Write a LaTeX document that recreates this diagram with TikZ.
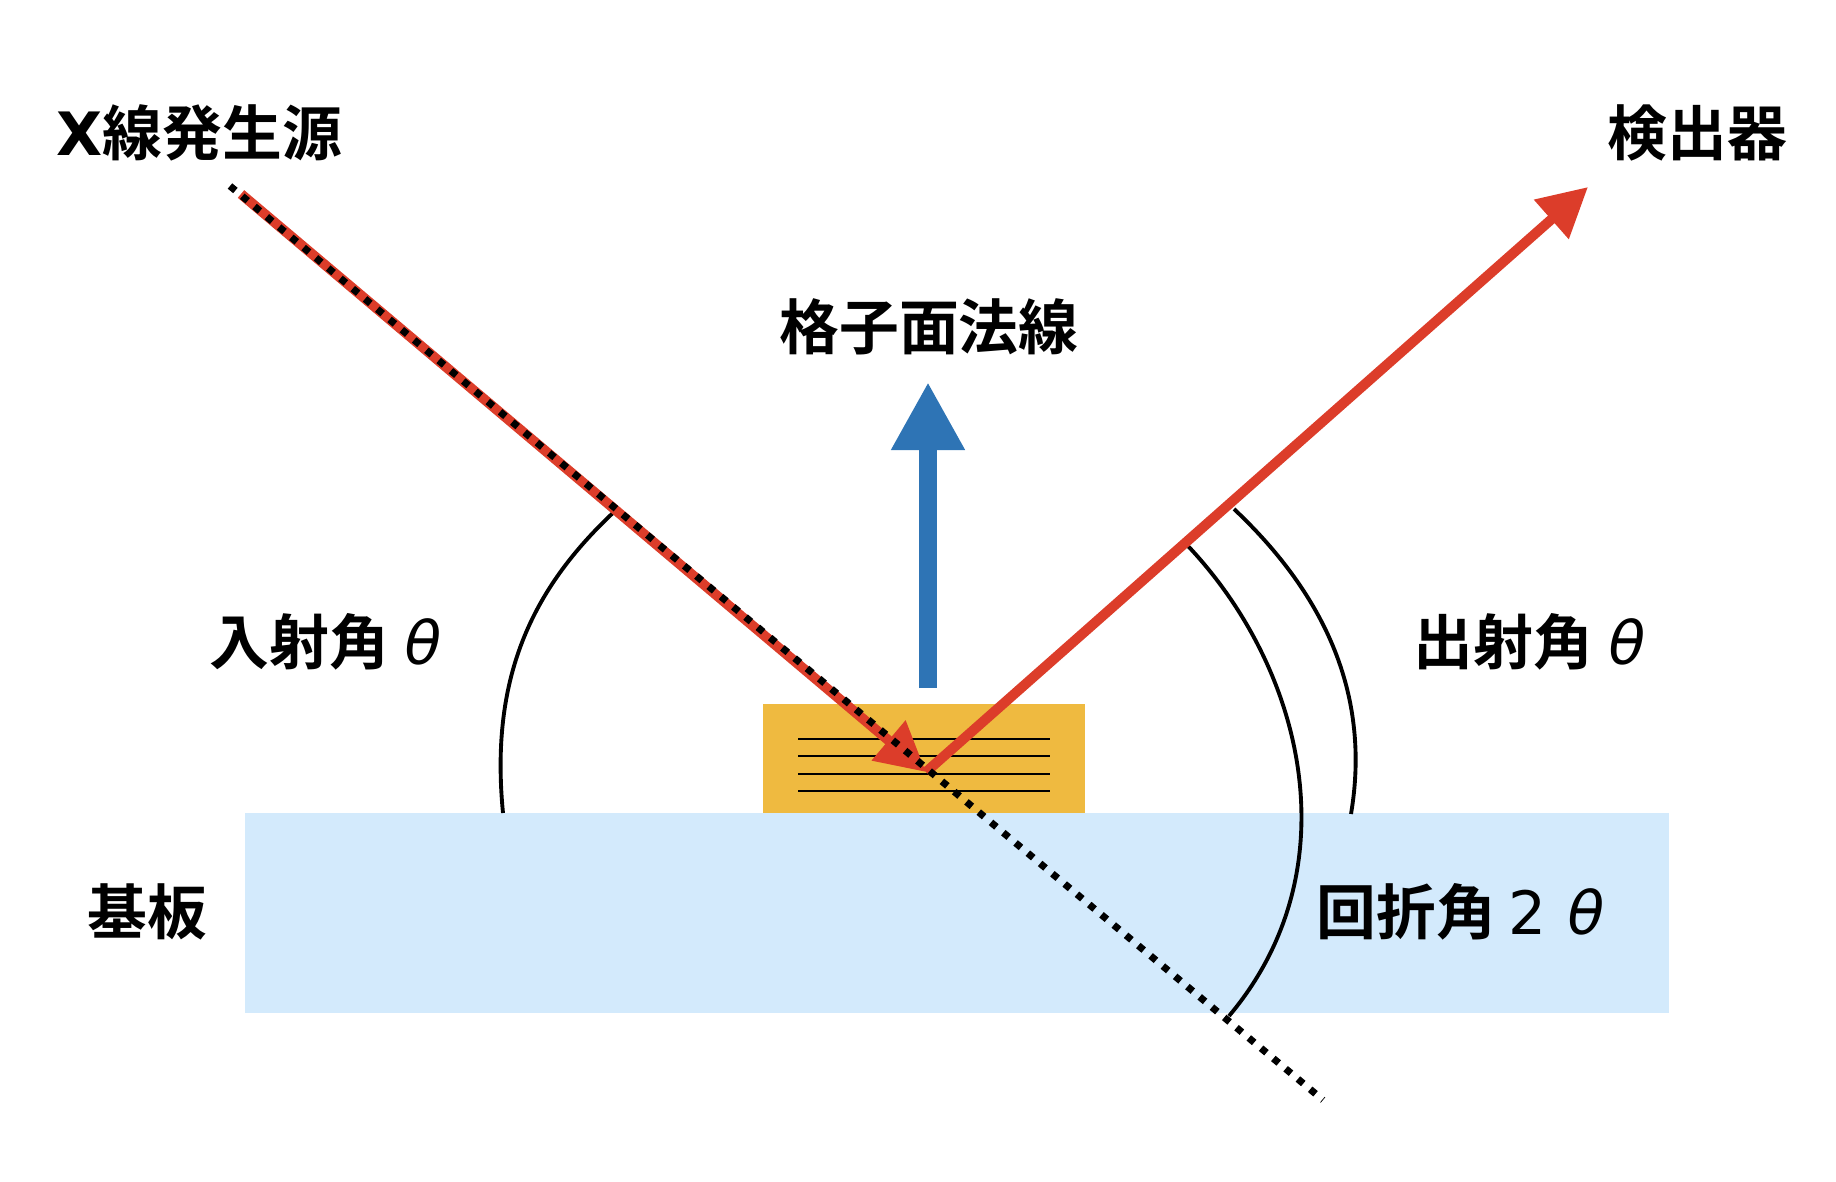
\documentclass[tikz,border=0pt]{standalone}
\usepackage{fontspec}
\setmainfont{Noto Sans CJK JP}[BoldFont={Noto Sans CJK JP Bold}]
\newfontfamily\thetafont{DejaVu Sans}[FakeSlant=0.2]
\newfontfamily\xfont{DejaVu Sans}
\usetikzlibrary{arrows.meta,positioning}

\definecolor{rayred}{HTML}{DC3D2A}
\definecolor{normalblue}{HTML}{2E74B5}
\definecolor{filmorange}{HTML}{EFBA40}
\definecolor{substrateblue}{HTML}{D3EAFC}

\newcommand{\thetasym}{\makebox[1em]{\thetafont\mdseries θ}}

\begin{document}
\begin{tikzpicture}[
  x=0.01cm, y=-0.01cm,
  labelstyle/.style={
        font=\bfseries\fontsize{17}{20}\selectfont,
        inner sep=0pt
  },
  raystyle/.style={
        rayred,
        line width=1mm,
        -{Triangle[length=4.9mm, width=5mm]}
  },
  dotline/.style={
        line width=2pt,
        dash pattern=on 2pt off 2.55pt
  },
  anglearc/.style={
        line width=1.1pt
  }
]

    \useasboundingbox (0,0) rectangle (1836,1182);

    \coordinate (src) at (241,194);
    \coordinate (O) at (926,772);
    \coordinate (det) at (1588,187);
    \coordinate (dotstart) at (230,186);
    \coordinate (dotend) at (1323,1100);
    \coordinate (nbase) at (928,688);
    \coordinate (ntip) at (928,382);

    % substrate and film
    \fill[substrateblue] (245,813) rectangle (1669,1013);
    \fill[filmorange] (763,704) rectangle (1085,813);
    \foreach \y in {739,756,774,791}
        \draw[line width=0.8pt] (798,\y) -- (1050,\y);

    % angle arcs
    \draw[anglearc] (615,511) .. controls (530,590) and (490,680) .. (503,813);
    \draw[anglearc] (1234,509) .. controls (1320,590) and (1372,690) .. (1351,814);
    \draw[anglearc] (1188,546) .. controls (1305,670) and (1352,870) .. (1229,1016);

    % rays
    \draw[raystyle] (src) -- (O);
    \draw[raystyle] (O) -- (det);
    \draw[dotline] (dotstart) -- (dotend);

    % lattice normal
    \draw[normalblue, line width=0.18cm, -{Triangle[length=6.8mm, width=6.9mm]}] (nbase) -- (ntip);

    % labels
    \node[labelstyle, anchor=west] (srclabel) at (56,133) {{\xfont X}線発生源};
    \node[labelstyle, anchor=west] (detlabel) at (1607,133) {検出器};
    \node[labelstyle] (normallabel) at (929,327) {格子面法線};
    \node[labelstyle, anchor=west] (inlabel) at (209,642) {入射角\thetasym};
    \node[labelstyle, anchor=west] (outlabel) at (1413,642) {出射角\thetasym};
    \node[labelstyle, anchor=west] (sublabel) at (87,912) {基板};
    \node[labelstyle, anchor=west] (difflabel) at (1316,912) {回折角\hspace{0.2em}{\xfont\mdseries 2}\hspace{0.3em}{\thetafont\mdseries θ}};
\end{tikzpicture}
\end{document}
